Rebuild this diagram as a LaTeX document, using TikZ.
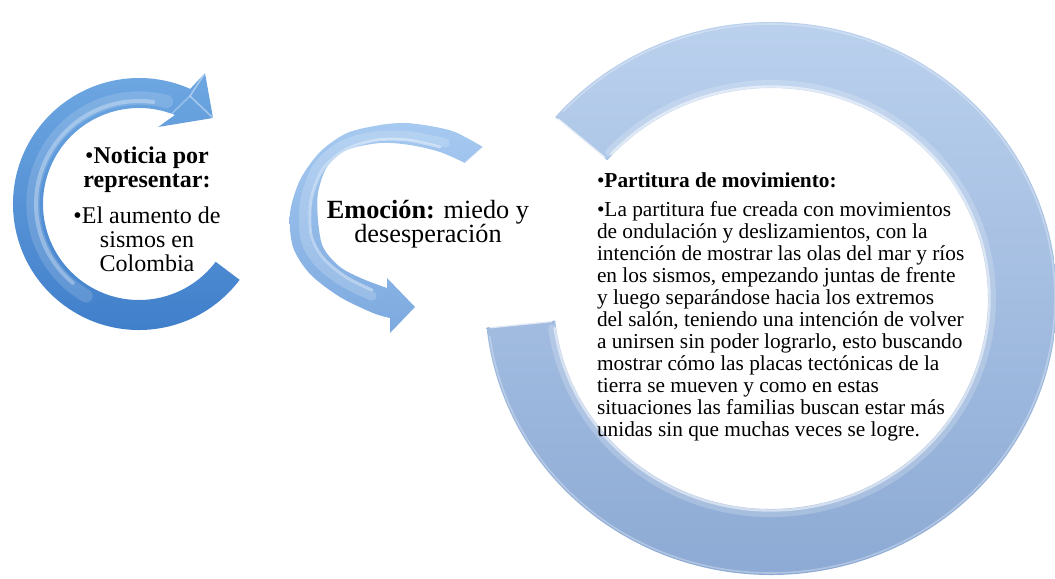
\documentclass[tikz,border=0pt]{standalone}
\usepackage{fontspec}
\setmainfont{Liberation Serif}
\usetikzlibrary{calc}
\definecolor{lefttop}{HTML}{6FA8E2}
\definecolor{leftbot}{HTML}{3D7CC9}
\definecolor{midtop}{HTML}{A6C9F0}
\definecolor{midbot}{HTML}{7CA9DF}
\definecolor{ringtop}{HTML}{BDD3EF}
\definecolor{ringbot}{HTML}{8AA8D3}
\begin{document}
\begin{tikzpicture}[x=0.75pt,y=-0.75pt,
  txt/.style={inner sep=0pt, outer sep=0pt},
  glow/.style={draw=white, line cap=round, line join=round}]
\useasboundingbox (0,0) rectangle (1055,578);
\clip (0,0) rectangle (1055,578);

% ---------- big ring (right) ----------
\coordinate (rc) at (771,298.5);
\path[shade, top color=ringtop, bottom color=ringbot]
  ($(rc)+(-139:286 and 276.5)$) arc[start angle=-139, end angle=174, x radius=286, y radius=276.5]
  -- ($(rc)+(174:217 and 210.5)$) arc[start angle=174, end angle=-139, x radius=217, y radius=210.5]
  -- cycle;
\draw[glow, opacity=.2, line width=6]
  ($(rc)+(-137:221 and 214.5)$) arc[start angle=-137, end angle=172, x radius=221, y radius=214.5];
\draw[glow, opacity=.5, line width=1.8]
  ($(rc)+(-137:218.5 and 212)$) arc[start angle=-137, end angle=172, x radius=218.5, y radius=212];
\draw[glow, opacity=.3, line width=1.2]
  ($(rc)+(-137:284 and 274.5)$) arc[start angle=-137, end angle=172, x radius=284, y radius=274.5];
\draw[glow, opacity=.7, line width=2]
  ($(rc)+(-139:282 and 272.5)$) -- ($(rc)+(-139:221 and 214.5)$);
\draw[glow, opacity=.7, line width=2]
  ($(rc)+(174:282 and 272.5)$) -- ($(rc)+(174:221 and 214.5)$);

% ---------- left arrow ----------
\coordinate (lc) at (139,204);
\path[shade, top color=lefttop, bottom color=leftbot]
  ($(lc)+(37:126)$) arc[start angle=37, end angle=294, radius=126]
  -- (205,73) -- (213,118) -- (158,127)
  -- ($(lc)+(292:96)$) arc[start angle=292, end angle=37, radius=96]
  -- cycle;
\draw[glow, opacity=.15, line width=10]
  ($(lc)+(120:106)$) arc[start angle=120, end angle=285, radius=106];
\draw[glow, opacity=.3, line width=3]
  ($(lc)+(130:103)$) arc[start angle=130, end angle=278, radius=103];
\draw[glow, opacity=.4, line width=1.2]
  (205,73) -- (190,96) -- (213,118);
\draw[glow, opacity=.3, line width=1.2]
  (190,96) -- (158,127);

% ---------- middle arrow ----------
\path[shade, top color=midtop, bottom color=midbot]
  plot[smooth] coordinates {(483,147) (455,132) (430,126) (405,123) (380,125) (347,133)
     (320,152) (300,180) (290,213) (293,247) (310,274) (340,297) (373,313) (390,318)}
  -- (390,333) -- (415,307) -- (387,278)
  -- plot[smooth] coordinates {(387,288) (363,279) (340,267) (323,247) (318,220) (318,193)
     (327,167) (347,150) (380,143) (410,145) (440,152) (465,163)}
  -- cycle;
\draw[glow, opacity=.18, line width=7]
  plot[smooth] coordinates {(445,143) (410,136) (375,136) (343,145) (318,166) (305,200)
     (305,238) (318,262) (343,282) (372,296)};
\draw[glow, opacity=.4, line width=2.2]
  plot[smooth] coordinates {(440,147) (408,140) (377,140) (347,149) (323,169) (311,200)
     (311,235) (323,258) (346,277) (372,290)};
\draw[glow, opacity=.5, line width=1]
  (465,163) -- (483,147);

% ---------- texts ----------
\node[txt, anchor=base] (noticia) at (147,163)
  {\parbox[t]{200pt}{\centering\lineskiplimit=-20pt\fontsize{18}{18}\selectfont
   •\textbf{Noticia por}\\ \textbf{representar:}\par\vspace{9pt}
   •El aumento de\\ sismos en\\ Colombia}};

\node[txt, anchor=base] (emocion) at (428,218)
  {\parbox[t]{220pt}{\centering\lineskiplimit=-20pt\fontsize{19.7}{18}\selectfont
   \textbf{Emoción:} miedo y\\ desesperación}};

\node[txt, anchor=base west] (partitura) at (597,187)
  {\parbox[t]{330pt}{\raggedright\lineskiplimit=-20pt\fontsize{16}{16.5}\selectfont
   •\textbf{Partitura de movimiento:}\par\vspace{5.25pt}
   •La partitura fue creada con movimientos\\
   de ondulación y deslizamientos, con la\\
   intención de mostrar las olas del mar y ríos\\
   en los sismos, empezando juntas de frente\\
   y luego separándose hacia los extremos\\
   del salón, teniendo una intención de volver\\
   a unirsen sin poder lograrlo, esto buscando\\
   mostrar cómo las placas tectónicas de la\\
   tierra se mueven y como en estas\\
   situaciones las familias buscan estar más\\
   unidas sin que muchas veces se logre.}};
\end{tikzpicture}
\end{document}
